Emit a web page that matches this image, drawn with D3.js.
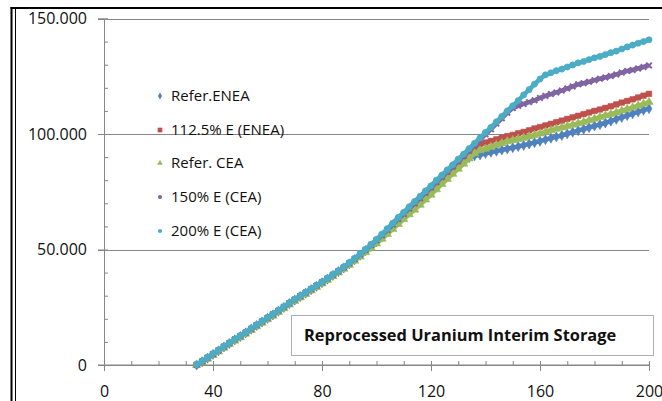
<!DOCTYPE html>
<html><head><meta charset="utf-8">
<script src="https://cdn.jsdelivr.net/npm/d3@7"></script>
<style>
body{margin:0;background:#fff}
svg{display:block}
text{font-family:"Open Sans",Lato,sans-serif;fill:#111}
</style>
</head><body>
<svg id="c" width="662" height="401"></svg>
<script>
// ---------- data ----------
const years = [34,36,38,40,42,44,46,48,50,52,54,56,58,60,62,64,66,68,70,72,74,76,78,80,82,84,86,88,90,92,94,96,
  98,100,102,104,106,108,110,112,114,116,118,120,122,124,126,128,130,132,134,136,138,140,142,144,146,148,150,
  152,154,156,158,160,162,164,166,168,170,172,174,176,178,180,182,184,186,188,190,192,194,196,198,200];

const referENEA = [0,1.4,3.0,4.6,6.1,7.8,9.3,10.9,12.3,13.9,15.5,17.1,18.6,20.2,21.7,23.3,24.9,26.6,28.1,29.6,31.1,32.6,34.1,35.6,37.2,38.8,40.4,42.0,43.8,45.6,47.5,49.5,
  51.3,53.3,55.4,57.6,59.8,62.1,64.2,66.4,68.6,70.8,73.1,75.2,77.5,79.7,82.0,84.1,86.4,88.4,89.8,90.6,91.0,91.6,92.1,92.6,93.1,93.6,94.1,
  94.6,95.1,95.7,96.3,96.9,97.6,98.2,98.8,99.4,100.1,100.8,101.5,102.1,102.8,103.5,104.1,104.8,105.6,106.4,107.2,108.0,108.8,109.6,110.3,111.0];

const e112ENEA = [0,1.5,3.1,4.6,6.2,7.9,9.4,11.0,12.4,14.0,15.6,17.2,18.7,20.3,21.8,23.4,25.0,26.7,28.2,29.7,31.2,32.7,34.2,35.7,37.3,38.9,40.5,42.1,43.9,45.7,47.6,49.6,
  51.6,53.7,55.9,58.1,60.4,62.7,64.9,67.2,69.4,71.6,74.0,76.1,78.5,80.7,83.0,85.2,87.5,89.7,92.1,94.3,95.6,96.3,97.0,97.7,98.4,99.1,99.6,
  100.3,100.9,101.6,102.4,103.0,103.7,104.4,105.1,105.8,106.5,107.2,107.9,108.6,109.3,110.0,110.6,111.3,112.0,112.8,113.6,114.3,115.0,115.8,116.6,117.4];

const referCEA = [0,1.1,2.7,4.3,5.8,7.4,9.0,10.5,11.9,13.5,15.1,16.7,18.2,19.8,21.3,22.9,24.5,26.1,27.7,29.2,30.7,32.2,33.7,35.2,36.8,38.4,40.0,41.6,43.3,45.1,46.9,48.8,
  50.7,52.6,54.6,56.7,58.8,61.0,63.1,65.2,67.2,69.3,71.6,73.7,76.0,78.3,80.5,82.7,84.9,87.1,89.4,91.6,92.9,93.6,94.4,95.2,96.0,96.8,97.3,
  97.8,98.3,98.9,99.5,100.2,100.9,101.6,102.2,102.8,103.4,104.0,104.6,105.2,105.9,106.6,107.3,108.0,108.6,109.3,110.1,110.8,111.5,112.3,113.0,113.8];

const e150CEA = [0.1,1.5,3.1,4.7,6.3,7.9,9.4,11.0,12.5,14.0,15.6,17.2,18.8,20.3,21.9,23.5,25.1,26.7,28.3,29.8,31.3,32.8,34.3,35.8,37.4,39.0,40.6,42.2,44.0,45.9,47.8,49.8,
  51.9,54.0,56.2,58.5,60.8,63.2,65.4,67.7,70.0,72.2,74.6,76.8,79.2,81.4,83.7,85.9,88.3,90.5,92.9,95.2,97.5,99.9,102.1,104.5,106.8,109.2,111.2,
  112.2,113.0,113.8,114.6,115.6,116.5,117.3,118.0,118.8,119.7,120.6,121.5,122.0,122.6,123.3,123.9,124.5,125.1,125.8,126.6,127.3,127.7,128.4,129.0,129.7];

const e200CEA = [0.2,1.7,3.3,4.9,6.5,8.1,9.6,11.2,12.7,14.2,15.9,17.4,19.0,20.5,22.1,23.7,25.3,26.9,28.5,30.0,31.5,33.0,34.5,36.0,37.6,39.2,40.8,42.5,44.3,46.2,48.1,50.1,
  52.2,54.4,56.7,59.1,61.4,63.9,66.1,68.5,70.8,73.0,75.4,77.6,80.0,82.2,84.5,86.7,89.1,91.3,93.7,96.0,98.3,100.7,102.9,105.3,107.6,110.0,112.2,
  114.5,116.9,119.2,121.6,123.8,125.6,126.5,127.4,128.1,129.0,129.9,130.8,131.4,132.2,133.0,133.6,134.4,135.2,135.9,136.8,137.7,138.5,139.3,140.0,140.8];

const seriesNames = ["Refer.ENEA","112.5% E (ENEA)","Refer. CEA","150% E (CEA)","200% E (CEA)"];
const seriesValues = [referENEA, e112ENEA, referCEA, e150CEA, e200CEA];
const seriesColors = ["#4F81BD","#C0504D","#9BBB59","#8064A2","#4BACC6"];
const seriesSymbols = [d3.symbolDiamond, d3.symbolSquare, d3.symbolTriangle, d3.symbolX, d3.symbolCircle];

const xTicks = [0,40,80,120,160,200];
const xTickLabels = ["0","40","80","120","160","200"];
const yTicks = [0,50,100,150];
const yTickLabels = ["0","50.000","100.000","150.000"];
const title = "Reprocessed Uranium Interim Storage";

// ---------- drawing ----------
const svg = d3.select("#c");
const grey = "#868686";
const x = d3.scaleLinear().domain([0,200]).range([104,649]);
const y = d3.scaleLinear().domain([0,150]).range([365,18.5]);

// outer frame
svg.append("line").attr("x1",10.5).attr("x2",662).attr("y1",8).attr("y2",8).attr("stroke","#000").attr("stroke-width",2);
svg.append("line").attr("x1",11.5).attr("x2",11.5).attr("y1",7).attr("y2",401).attr("stroke","#000").attr("stroke-width",2);
svg.append("line").attr("x1",15.5).attr("x2",15.5).attr("y1",9).attr("y2",401).attr("stroke","#000").attr("stroke-width",1);

// gridlines
svg.append("g").selectAll("line").data(yTicks.filter(d=>d>0)).join("line")
  .attr("x1",x(0)-6).attr("x2",x(200))
  .attr("y1",d=>Math.round(y(d))+0.5).attr("y2",d=>Math.round(y(d))+0.5)
  .attr("stroke",grey).attr("stroke-width",1);

// y axis
const yAxis = svg.append("g").attr("transform",`translate(${x(0)},0)`)
  .call(d3.axisLeft(y).tickValues(yTicks).tickSize(6).tickFormat((d,i)=>yTickLabels[i]));
const yMinor = svg.append("g").attr("transform",`translate(${x(0)},0)`)
  .call(d3.axisRight(y).tickValues(d3.range(0,151,10)).tickSize(4).tickFormat(""));
// x axis
const xAxis = svg.append("g").attr("transform",`translate(0,${y(0)})`)
  .call(d3.axisBottom(x).tickValues(xTicks).tickSize(6).tickFormat((d,i)=>xTickLabels[i]));
const xMinor = svg.append("g").attr("transform",`translate(0,${y(0)})`)
  .call(d3.axisTop(x).tickValues(d3.range(0,201,10)).tickSize(4).tickFormat(""));
svg.append("line").attr("x1",x(0)-6).attr("x2",x(200)).attr("y1",y(0)).attr("y2",y(0)).attr("stroke",grey);

[yAxis,yMinor,xAxis,xMinor].forEach(g=>{
  g.selectAll(".domain").attr("stroke",grey);
  g.selectAll(".tick line").attr("stroke",grey);
});
yAxis.selectAll(".tick text").attr("x",-17).attr("font-size","16px").attr("font-family","Open Sans").attr("fill","#111");
xAxis.selectAll(".tick text").attr("y",null).attr("dy",null).attr("transform","translate(0,32)")
  .attr("font-size","16px").attr("font-family","Open Sans").attr("fill","#111");

// title box
svg.append("rect").attr("x",291.5).attr("y",315.5).attr("width",362).attr("height",40)
  .attr("fill","#fff").attr("stroke","#b0b0b0");
svg.append("text").attr("x",304).attr("y",341).attr("font-weight","bold").attr("font-size","16.4px")
  .text(title);

// series
const line = d3.line().x((d,i)=>x(years[i])).y(d=>y(d));
seriesValues.forEach((vals,k)=>{
  const g = svg.append("g");
  g.append("path").datum(vals).attr("d",line).attr("fill","none")
    .attr("stroke",seriesColors[k]).attr("stroke-width",4.5).attr("stroke-linejoin","round");
  g.selectAll("path.m").data(vals).join("path").attr("class","m")
    .attr("transform",(d,i)=>`translate(${x(years[i])},${y(d)})`)
    .attr("d",d3.symbol().type(seriesSymbols[k]).size(k===3?22:30))
    .attr("fill",k===3?"none":seriesColors[k])
    .attr("stroke",seriesColors[k]).attr("stroke-width",k===3?2:0.6);
});

// legend
const legY = [96,130,163,197,231];
const leg = svg.append("g");
seriesNames.forEach((n,k)=>{
  leg.append("path").attr("transform",`translate(160,${legY[k]})`)
    .attr("d",d3.symbol().type(k===3||k===4?d3.symbolCircle:seriesSymbols[k]).size(k===1?22:14))
    .attr("fill",seriesColors[k]);
  leg.append("text").attr("x",171).attr("y",legY[k]).attr("dy","0.36em")
    .attr("font-size","15px").text(n);
});
</script>
</body></html>
